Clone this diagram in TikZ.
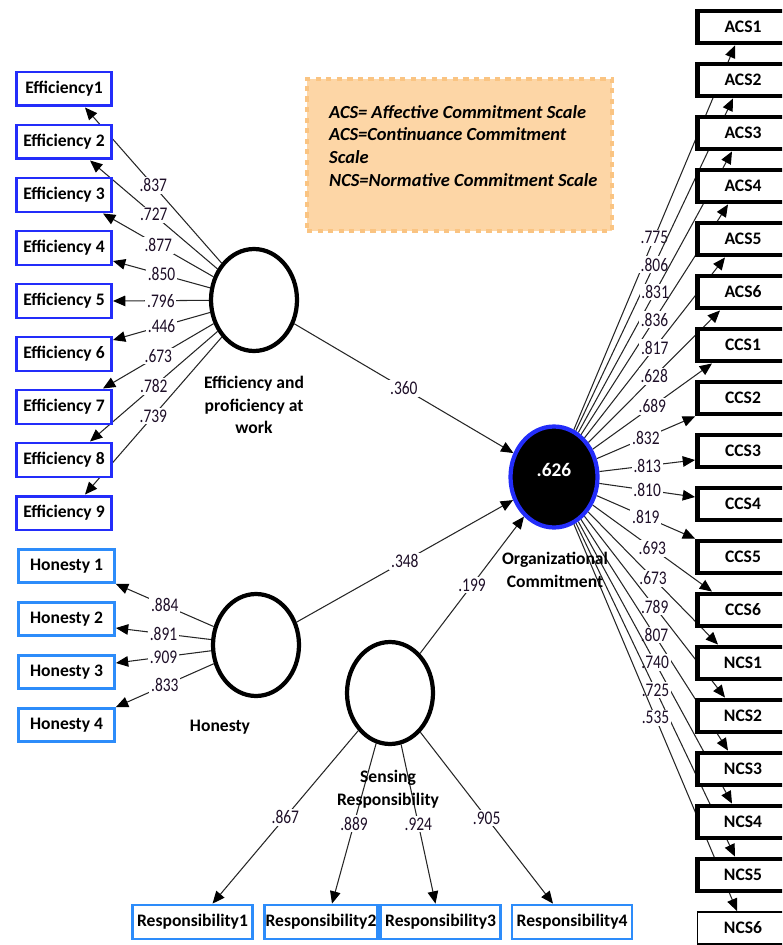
\documentclass[tikz,border=0pt]{standalone}
\usepackage{fontspec}
\setmainfont{Carlito}
\newfontfamily\numfont[FakeStretch=0.8]{Carlito}
\usetikzlibrary{shapes.geometric,arrows.meta,calc,backgrounds}
\definecolor{effblue}{RGB}{35,45,250}
\definecolor{honblue}{RGB}{45,140,250}
\definecolor{legfill}{RGB}{253,214,166}
\definecolor{legline}{RGB}{250,196,130}
\definecolor{numcol}{RGB}{30,15,40}

\begin{document}
\begin{tikzpicture}[x=0.02cm, y=-0.02cm,
  every node/.style={font=\bfseries\fontsize{10}{12}\selectfont},
  effbox/.style={draw=effblue, line width=1.7pt, fill=white, minimum width=1.9cm, minimum height=0.68cm, inner sep=0pt},
  honbox/.style={draw=honblue, line width=1.6pt, fill=white, minimum width=1.92cm, minimum height=0.66cm, inner sep=0pt},
  resbox/.style={honbox, minimum width=2.4cm, minimum height=0.68cm},
  ocsbox/.style={draw, line width=2.8pt, fill=white, minimum width=1.82cm, minimum height=0.64cm, inner sep=0pt, font=\bfseries\fontsize{10}{12}\selectfont},
  latent/.style={ellipse, draw, line width=2.4pt, fill=white, minimum width=1.72cm, minimum height=2.04cm, inner sep=0pt},
  ln/.style={draw=black!85, line width=0.6pt, -{Triangle[length=7pt,width=6pt,black]}},
  lv/.style={fill=white, inner sep=1pt, text=numcol, font=\numfont\fontsize{11}{12}\selectfont},
  lname/.style={align=center, font=\bfseries\fontsize{10}{13}\selectfont}
]
\useasboundingbox (0,0) rectangle (782,945);
\clip (0,0) rectangle (782,945);

% indicators
\node[effbox] (e1) at (64,89) {Efficiency1};
\foreach \i in {2,...,9}
  \node[effbox] (e\i) at (64,{89+53*(\i-1)}) {Efficiency \i};
\foreach \i in {1,...,4}
  \node[honbox] (h\i) at (66.5,{566+53*(\i-1)}) {Honesty \i};
\node[resbox] (r1) at (192.5,922) {Responsibility1};
\node[resbox, minimum width=2.26cm] (r2) at (321,922) {Responsibility2};
\node[resbox] (r3) at (440.5,922) {Responsibility3};
\node[resbox] (r4) at (572,922) {Responsibility4};
\foreach \n/\t [count=\k from 0] in {a1/ACS1,a2/ACS2,a3/ACS3,a4/ACS4,a5/ACS5,a6/ACS6,c1/CCS1,c2/CCS2,c3/CCS3,c4/CCS4,c5/CCS5,c6/CCS6,n1/NCS1,n2/NCS2,n3/NCS3,n4/NCS4,n5/NCS5}
  \node[ocsbox] (\n) at (743,{27+53*\k}) {\t};
\node[ocsbox, line width=1.1pt] (n6) at (743,928) {NCS6};

% latent variables
\node[latent] (eff) at (254,300) {};
\node[latent] (hon) at (256,645) {};
\node[latent] (res) at (390,693) {};
\node[latent, draw=effblue, fill=black, text=white, font=\bfseries\fontsize{11}{13}\selectfont, minimum width=1.74cm, minimum height=2.02cm, text depth=0.3cm] (oc) at (554,477) {.626};
\node[lname] (effname) at (254,405) {Efficiency and\\proficiency at\\work};
\node[lname] (honname) at (220,727) {Honesty};
\node[lname] (resname) at (388,789) {Sensing\\Responsibility};
\node[lname] (ocname) at (555,570) {Organizational\\Commitment};

% legend
\node[draw=legline, dash pattern=on 3pt off 3pt, line width=2pt, fill=legfill, minimum width=6.1cm, minimum height=3.05cm] (legend) at (459.5,155) {};
\node[anchor=west, align=left, font=\bfseries\itshape\fontsize{10.5}{13}\selectfont] (legtext) at (323,146)
  {ACS= Affective Commitment Scale\\ACS=Continuance Commitment\\Scale\\NCS=Normative Commitment Scale};

% arrow ends
\coordinate (te1) at ($(e1.south)+(21,0)$);
\coordinate (te2) at ($(e2.south)+(26,0)$);
\coordinate (te3) at ($(e3.south)+(39,0)$);
\coordinate (te4) at ($(e4.east)+(0,13)$);
\coordinate (te5) at (e5.east);
\coordinate (te6) at ($(e6.east)+(0,-14)$);
\coordinate (te7) at ($(e7.north)+(39,0)$);
\coordinate (te8) at ($(e8.north)+(26,0)$);
\coordinate (te9) at ($(e9.north)+(21,0)$);
\coordinate (th1) at (h1.south east);
\coordinate (th2) at ($(h2.east)+(0,9)$);
\coordinate (th3) at ($(h3.east)+(0,-9)$);
\coordinate (th4) at (h4.north east);
\foreach \n/\s in {r1/20,r2/11,r3/-5,r4/-19}
  \coordinate (t\n) at ($(\n.north)+(\s,0)$);
\foreach \n/\s in {a1/-8,a2/-10,a3/-11,a4/-15,a5/-18,a6/-23,c1/-31}
  \coordinate (t\n) at ($(\n.south)+(\s,0)$);
\coordinate (tc2) at (c2.south west);
\coordinate (tc3) at ($(c3.west)+(0,9)$);
\coordinate (tc4) at ($(c4.west)+(0,-7)$);
\coordinate (tc5) at (c5.north west);
\foreach \n/\s in {c6/-31,n1/-25,n2/-18,n3/-15,n4/-11,n5/-8,n6/-6}
  \coordinate (t\n) at ($(\n.north)+(\s,0)$);

% loadings and paths
\begin{scope}[on background layer]
\foreach \n/\v in {e1/.837,e2/.727,e3/.877,e4/.850,e5/.796,e6/.446,e7/.673,e8/.782,e9/.739}
  \draw[ln] (eff) -- node[lv] {\v} (t\n);
\foreach \n/\v in {h1/.884,h2/.891,h3/.909,h4/.833}
  \draw[ln] (hon) -- node[lv] {\v} (t\n);
\foreach \n/\v in {r1/.867,r2/.889,r3/.924,r4/.905}
  \draw[ln] (res) -- node[lv] {\v} (t\n);
\foreach \n/\v in {a1/.775,a2/.806,a3/.831,a4/.836,a5/.817,a6/.628,c1/.689,c2/.832,c3/.813,c4/.810,c5/.819,c6/.693,n1/.673,n2/.789,n3/.807,n4/.740,n5/.725,n6/.535}
  \draw[ln] (oc) -- node[lv] {\v} (t\n);
\draw[ln] (eff) -- node[lv] {.360} (oc);
\draw[ln] (hon) -- node[lv] {.348} (oc);
\draw[ln] (res) -- node[lv] {.199} (oc);
\end{scope}
\end{tikzpicture}
\end{document}
